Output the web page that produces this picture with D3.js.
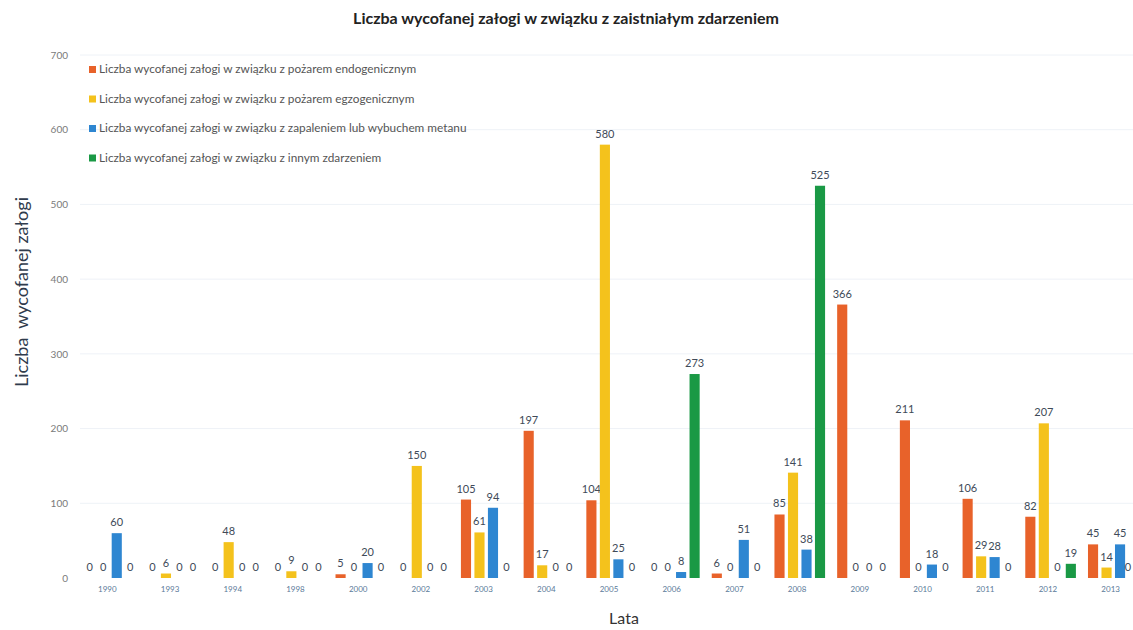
<!DOCTYPE html>
<html><head><meta charset="utf-8">
<script src="https://cdn.jsdelivr.net/npm/d3@7"></script>
<style>body{margin:0;background:#fff}svg{display:block}</style>
</head><body>
<svg id="c" width="1133" height="630"></svg>
<script>
const years = ["1990","1993","1994","1998","2000","2002","2003","2004","2005","2006","2007","2008","2009","2010","2011","2012","2013"];
const endogeniczny = [0,0,0,0,5,0,105,197,104,0,6,85,366,211,106,82,45];
const egzogeniczny = [0,6,48,9,0,150,61,17,580,0,0,141,0,0,29,207,14];
const metan = [60,0,0,0,20,0,94,0,25,8,51,38,0,18,28,0,45];
const inne = [0,0,0,0,0,0,0,0,0,273,0,525,0,0,0,19,0];
const seriesNames = [
  "Liczba wycofanej załogi w związku z pożarem endogenicznym",
  "Liczba wycofanej załogi w związku z pożarem egzogenicznym",
  "Liczba wycofanej załogi w związku z zapaleniem lub wybuchem metanu",
  "Liczba wycofanej załogi w związku z innym zdarzeniem"
];
const colors = ["#E8622A","#F4C21C","#2E86D1","#1A9945"];
const yTicks = [0,100,200,300,400,500,600,700];
const allSeries = [endogeniczny, egzogeniczny, metan, inne];

const svg = d3.select("#c");
const font = "Lato, 'Open Sans', sans-serif";
const x0 = d3.scaleBand().domain(years).range([78,1144]).paddingInner(0).paddingOuter(0);
const x1 = d3.scaleBand().domain([0,1,2,3]).range([5,59]).paddingInner(0.25).paddingOuter(0.125);
const y = d3.scaleLinear().domain([0,700]).range([578,55]);

// gridlines
svg.append("g").selectAll("line").data(yTicks.slice(1)).join("line")
  .attr("x1",80).attr("x2",1133).attr("y1",d=>y(d)).attr("y2",d=>y(d))
  .attr("stroke","#eef2f7").attr("stroke-width",1);

// y axis
const ya = svg.append("g").attr("transform","translate(70,0)")
  .call(d3.axisLeft(y).tickValues(yTicks).tickSize(0).tickPadding(2));
ya.select(".domain").remove();
ya.selectAll("text").attr("font-family",font).attr("font-size",10).attr("fill","#7a7a7a");

// x axis
const xa = svg.append("g").attr("transform","translate(-2,583)")
  .call(d3.axisBottom(x0).tickSize(0).tickPadding(3));
xa.select(".domain").remove();
xa.selectAll("text").attr("font-family",font).attr("font-size",8).attr("fill","#5b7a99");

// bars
const groups = svg.append("g").selectAll("g").data(years).join("g")
  .attr("transform",d=>`translate(${x0(d)},0)`);
groups.each(function(yr,i){
  const g = d3.select(this);
  const gx = x0(yr);
  allSeries.forEach((s,k)=>{
    const v = s[i];
    const cx = x1(k);
    if (v>0){
      g.append("rect").attr("x",cx).attr("width",x1.bandwidth())
        .attr("y",y(v)).attr("height",y(0)-y(v)).attr("fill",colors[k]);
    }
    const lx = Math.min(gx + cx + x1.bandwidth()/2, 1128) - gx;
    g.append("text").attr("x",lx).attr("y",y(v)-7)
      .attr("text-anchor","middle").attr("font-family",font).attr("font-size",11)
      .attr("fill","#404a58").text(v);
  });
});

// legend
const lg = svg.append("g").selectAll("g").data(seriesNames).join("g")
  .attr("transform",(d,i)=>`translate(89,${70+i*29.5})`);
lg.append("rect").attr("x",0).attr("y",-4).attr("width",7).attr("height",7).attr("fill",(d,i)=>colors[i]);
lg.append("text").attr("x",10).attr("y",3).attr("font-family",font).attr("font-size",11.8)
  .attr("fill","#555").text(d=>d);

// title
svg.append("text").attr("x",566).attr("y",24).attr("text-anchor","middle")
  .attr("font-family",font).attr("font-weight","bold").attr("font-size",16)
  .attr("fill","#222").text("Liczba wycofanej załogi w związku z zaistniałym zdarzeniem");

// axis titles
svg.append("text").attr("transform","translate(28,292) rotate(-90)").attr("text-anchor","middle")
  .attr("font-family",font).attr("font-size",18).attr("fill","#2f3b4c")
  .attr("xml:space","preserve").text("Liczba  wycofanej załogi");
svg.append("text").attr("x",624).attr("y",624).attr("text-anchor","middle")
  .attr("font-family",font).attr("font-size",16).attr("fill","#333").text("Lata");
</script>
</body></html>
